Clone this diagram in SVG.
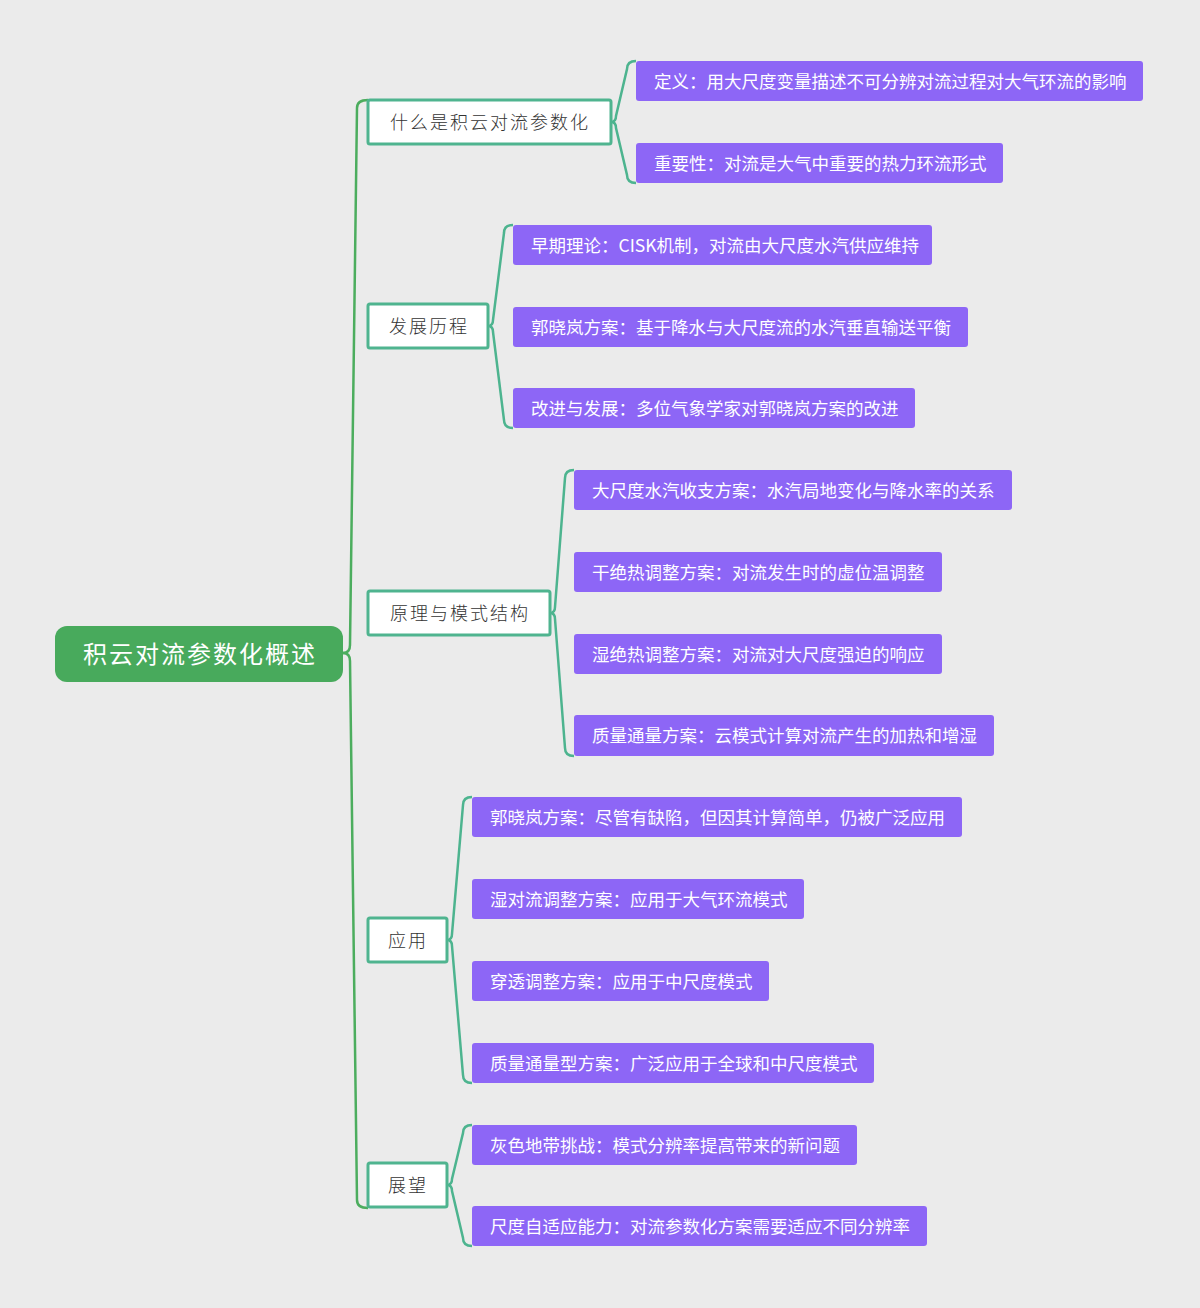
<svg xmlns="http://www.w3.org/2000/svg" width="1200" height="1308" viewBox="0 0 1200 1308">
<style>
.bg{fill:#ebebeb}
.root rect{fill:#48aa5c}
.root text{fill:#ffffff;font-family:"Noto Sans CJK SC","Noto Sans",sans-serif;font-size:24px;letter-spacing:2px;text-anchor:middle;dominant-baseline:central}
.l1 rect{fill:#ffffff;stroke:#4fb48f;stroke-width:3}
.l1 text{fill:#333333;font-family:"Noto Sans CJK SC","Noto Sans",sans-serif;font-size:18px;font-weight:300;letter-spacing:2px;text-anchor:middle;dominant-baseline:central}
.leaf rect{fill:#8d66f6}
.leaf text{fill:#ffffff;font-family:"Noto Sans CJK SC","Noto Sans",sans-serif;font-size:17.5px;dominant-baseline:central}
.trunk{fill:none;stroke:#4cad5e;stroke-width:2.5}
.br{fill:none;stroke:#4db48f;stroke-width:2.5}
</style>
<rect class="bg" x="0" y="0" width="1200" height="1308"/>
<g id="connectors">
<path class="trunk" d="M343 653 Q350 653 350 645 L357 108 Q357 100 368 100"/>
<path class="trunk" d="M343 653 Q350 653 350 661 L357 1200 Q357 1208 368 1208"/>
<path class="br" d="M611 122 Q616 122 616 116 L627 69 Q627 61 636 61"/>
<path class="br" d="M611 122 Q616 122 616 128 L627 175 Q627 183 636 183"/>
<path class="br" d="M488 326 Q493 326 493 320 L504 233 Q504 225 513 225"/>
<path class="br" d="M488 326 Q493 326 493 332 L504 420 Q504 428 513 428"/>
<path class="br" d="M550 613 Q555 613 555 607 L565 478 Q565 470 574 470"/>
<path class="br" d="M550 613 Q555 613 555 619 L565 748 Q565 756 574 756"/>
<path class="br" d="M447 940 Q452 940 452 934 L463 805 Q463 797 472 797"/>
<path class="br" d="M447 940 Q452 940 452 946 L463 1075 Q463 1083 472 1083"/>
<path class="br" d="M447 1185 Q452 1185 452 1179 L463 1133 Q463 1125 472 1125"/>
<path class="br" d="M447 1185 Q452 1185 452 1191 L463 1238 Q463 1246 472 1246"/>
</g>
<g id="root" class="root"><rect x="55" y="626" width="288" height="56" rx="12"/><text x="200" y="652">积云对流参数化概述</text></g>
<g id="n1" class="l1"><rect x="368" y="100" width="243" height="44" rx="2"/><text x="490" y="121">什么是积云对流参数化</text></g>
<g id="n2" class="l1"><rect x="368" y="304" width="120" height="44" rx="2"/><text x="429" y="325">发展历程</text></g>
<g id="n3" class="l1"><rect x="368" y="591" width="182" height="44" rx="2"/><text x="460" y="612">原理与模式结构</text></g>
<g id="n4" class="l1"><rect x="368" y="918" width="79" height="44" rx="2"/><text x="408" y="939">应用</text></g>
<g id="n5" class="l1"><rect x="368" y="1163" width="79" height="44" rx="2"/><text x="408" y="1184">展望</text></g>
<g id="l1" class="leaf"><rect x="636" y="61" width="507" height="40" rx="3"/><text x="654" y="80">定义：用大尺度变量描述不可分辨对流过程对大气环流的影响</text></g>
<g id="l2" class="leaf"><rect x="636" y="143" width="367" height="40" rx="3"/><text x="654" y="162">重要性：对流是大气中重要的热力环流形式</text></g>
<g id="l3" class="leaf"><rect x="513" y="225" width="419" height="40" rx="3"/><text x="531" y="244">早期理论：CISK机制，对流由大尺度水汽供应维持</text></g>
<g id="l4" class="leaf"><rect x="513" y="307" width="455" height="40" rx="3"/><text x="531" y="326">郭晓岚方案：基于降水与大尺度流的水汽垂直输送平衡</text></g>
<g id="l5" class="leaf"><rect x="513" y="388" width="402" height="40" rx="3"/><text x="531" y="407">改进与发展：多位气象学家对郭晓岚方案的改进</text></g>
<g id="l6" class="leaf"><rect x="574" y="470" width="438" height="40" rx="3"/><text x="592" y="489">大尺度水汽收支方案：水汽局地变化与降水率的关系</text></g>
<g id="l7" class="leaf"><rect x="574" y="552" width="368" height="40" rx="3"/><text x="592" y="571">干绝热调整方案：对流发生时的虚位温调整</text></g>
<g id="l8" class="leaf"><rect x="574" y="634" width="368" height="40" rx="3"/><text x="592" y="653">湿绝热调整方案：对流对大尺度强迫的响应</text></g>
<g id="l9" class="leaf"><rect x="574" y="715" width="420" height="41" rx="3"/><text x="592" y="734">质量通量方案：云模式计算对流产生的加热和增湿</text></g>
<g id="l10" class="leaf"><rect x="472" y="797" width="490" height="40" rx="3"/><text x="490" y="816">郭晓岚方案：尽管有缺陷，但因其计算简单，仍被广泛应用</text></g>
<g id="l11" class="leaf"><rect x="472" y="879" width="332" height="40" rx="3"/><text x="490" y="898">湿对流调整方案：应用于大气环流模式</text></g>
<g id="l12" class="leaf"><rect x="472" y="961" width="297" height="40" rx="3"/><text x="490" y="980">穿透调整方案：应用于中尺度模式</text></g>
<g id="l13" class="leaf"><rect x="472" y="1043" width="402" height="40" rx="3"/><text x="490" y="1062">质量通量型方案：广泛应用于全球和中尺度模式</text></g>
<g id="l14" class="leaf"><rect x="472" y="1125" width="385" height="40" rx="3"/><text x="490" y="1144">灰色地带挑战：模式分辨率提高带来的新问题</text></g>
<g id="l15" class="leaf"><rect x="472" y="1206" width="455" height="40" rx="3"/><text x="490" y="1225">尺度自适应能力：对流参数化方案需要适应不同分辨率</text></g>
</svg>
